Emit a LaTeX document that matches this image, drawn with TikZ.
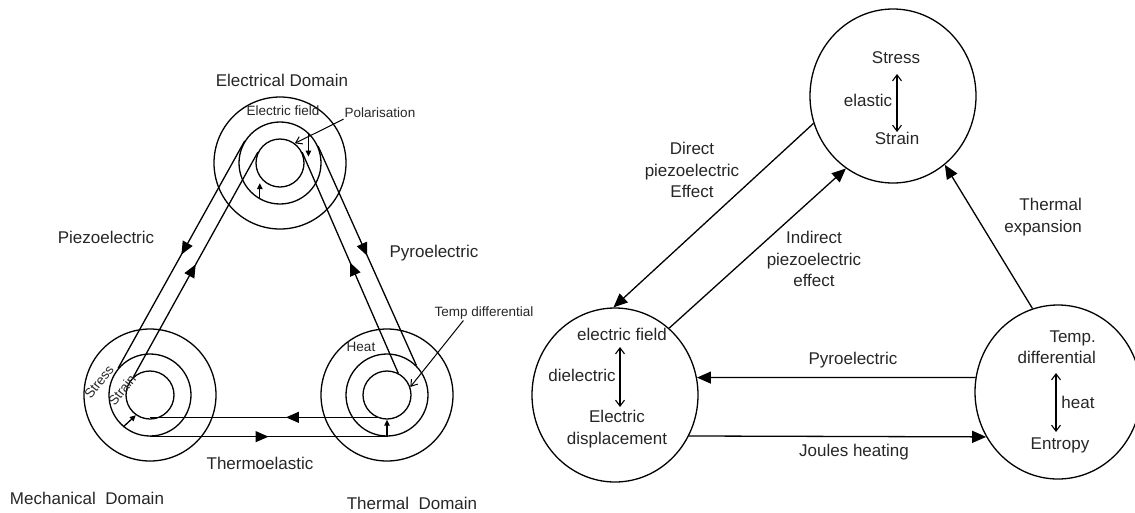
\documentclass[tikz,border=0pt]{standalone}
\usepackage{fontspec}
\setmainfont{Liberation Sans}
\usetikzlibrary{arrows.meta}
\usetikzlibrary{shapes.geometric}
\usetikzlibrary{decorations.markings}

\begin{document}
\begin{tikzpicture}[x=1pt,y=-1pt]
        \tikzset{ring/.style = {shape=circle,draw,line width=1.3pt,minimum size=#1,inner sep=0pt}}
        \tikzset{bubble/.style = {shape=ellipse,draw,line width=1.3pt,minimum width=166pt,minimum height=174pt,inner sep=0pt}}
        \tikzset{biglbl/.style = {font=\fontsize{17}{21.5}\selectfont,text=black!85,inner sep=1pt,align=center}}
        \tikzset{smalllbl/.style = {font=\fontsize{13.5}{16}\selectfont,text=black!85,inner sep=1pt}}
        \tikzset{edge/.style = {-{Triangle[length=14pt,width=12pt]},line width=1.3pt}}
        \tikzset{flow/.style = {line width=1.3pt,postaction={decorate},
            decoration={markings,mark=at position #1 with {\arrow{Triangle[length=13pt,width=11pt]}}}},
            flow/.default=0.5}
        \tikzset{nudge/.style = {-{Triangle[length=6pt,width=5.5pt]},line width=1.3pt}}
        \tikzset{pointer/.style = {-{Straight Barb[length=6pt,width=8pt]},line width=1pt}}
        \tikzset{twoway/.style = {{Straight Barb[length=6pt,width=9pt]}-{Straight Barb[length=6pt,width=9pt]},line width=1.1pt}}
        \useasboundingbox (0,0) rectangle (1135,512);

        % rings
        \node[ring=132pt] (elecO) at (280,163) {};
        \node[ring=82pt] (elecM) at (280,163) {};
        \node[ring=48pt] (elecI) at (280,163) {};
        \node[ring=132pt] (mechO) at (150,395) {};
        \node[ring=82pt] (mechM) at (150,395) {};
        \node[ring=48pt] (mechI) at (150,395) {};
        \node[ring=132pt] (thermO) at (387,395) {};
        \node[ring=82pt] (thermM) at (387,395) {};
        \node[ring=48pt] (thermI) at (387,395) {};

        % labels
        \node[biglbl] (elecdom) at (282,80) {Electrical Domain};
        \node[biglbl] (mechdom) at (87,498) {Mechanical\ \ Domain};
        \node[biglbl] (thermdom) at (412,503) {Thermal\ \ Domain};
        \node[biglbl] (piezo) at (106,237) {Piezoelectric};
        \node[biglbl] (pyro) at (434,253) {Pyroelectric};
        \node[biglbl] (thermoel) at (260,463) {Thermoelastic};
        \node[smalllbl] (efield) at (283,111) {Electric field};
        \node[smalllbl] (polar) at (380,113) {Polarisation};
        \node[smalllbl] (tdiff) at (484,313) {Temp differential};
        \node[smalllbl] (heat) at (361,347) {Heat};
        \node[smalllbl, rotate=52] (stress) at (99,382) {Stress};
        \node[smalllbl, rotate=52] (strain) at (122,390) {Strain};

        %edges
        \draw[flow] (elecM.148) -- (mechM.140);
        \draw[flow] (mechI.132) -- (elecI.154);
        \draw[flow] (elecM.24) -- (thermM.45);
        \draw[flow] (thermI.63) -- (elecI.26);
        \draw[flow=0.4] (thermI.245) -- (thermI.245 -| mechI.south);
        \draw[flow] (mechM.south) -- (thermM.south);
        \draw[nudge] (elecM.241) -- (elecM.241 |- elecI.235);
        \draw[nudge] (elecM.47) -- (elecM.47 |- elecI.15);
        \draw[nudge] (mechM.230) -- (mechI.235);
        \draw[nudge] (thermM.south) -- (thermI.south);
        \draw[pointer] (polar.south west) -- (elecI.53);
        \draw[pointer] (tdiff.200) -- (thermI.19);

        % domains
        \node[bubble] (mechnode) at (893,96) {};
        \node[bubble] (elecnode) at (615,395) {};
        \node[bubble] (thermnode) at (1058,392) {};

        \node[biglbl] (rstress) at (896,58) {Stress};
        \node[biglbl] (rstrain) at (897,138) {Strain};
        \node[biglbl] (elastic) at (868,100) {elastic};
        \node[biglbl] (refield) at (622,334) {electric field};
        \node[biglbl] (dielec) at (582,375) {dielectric};
        \node[biglbl] (edisp) at (617,429) {Electric\\displacement};
        \node[biglbl, anchor=east, align=right] (rtemp) at (1097,347) {Temp.\\differential};
        \node[biglbl] (rheat) at (1078,402) {heat};
        \node[biglbl] (entropy) at (1060,445) {Entropy};

        \node[biglbl] (direct) at (692,170) {Direct\\piezoelectric\\Effect};
        \node[biglbl] (indirect) at (814,259) {Indirect\\piezoelectric\\effect};
        \node[biglbl, anchor=east, align=right] (expansion) at (1083,217) {Thermal\\expansion};
        \node[biglbl] (rpyro) at (853,360) {Pyroelectric};
        \node[biglbl] (joules) at (854,452) {Joules heating};

        \coordinate (elasticA) at (897,74);
        \coordinate (elasticB) at (897,132);
        \coordinate (dielecA) at (620,347);
        \coordinate (dielecB) at (620,407);
        \coordinate (heatA) at (1056,373);
        \coordinate (heatB) at (1056,432);
        \draw[twoway] (elasticA) -- (elasticB);
        \draw[twoway] (dielecA) -- (dielecB);
        \draw[twoway] (heatA) -- (heatB);

        \draw[edge] (mechnode.199) -- (elecnode.91);
        \draw[edge] (elecnode.51) -- (mechnode.237);
        \draw[edge] (thermnode.107) -- (mechnode.307);
        \draw[edge] (thermnode.170) -- (elecnode.12);
        \draw[edge] (elecnode.331) -- (thermnode.212);
    \end{tikzpicture}
\end{document}
